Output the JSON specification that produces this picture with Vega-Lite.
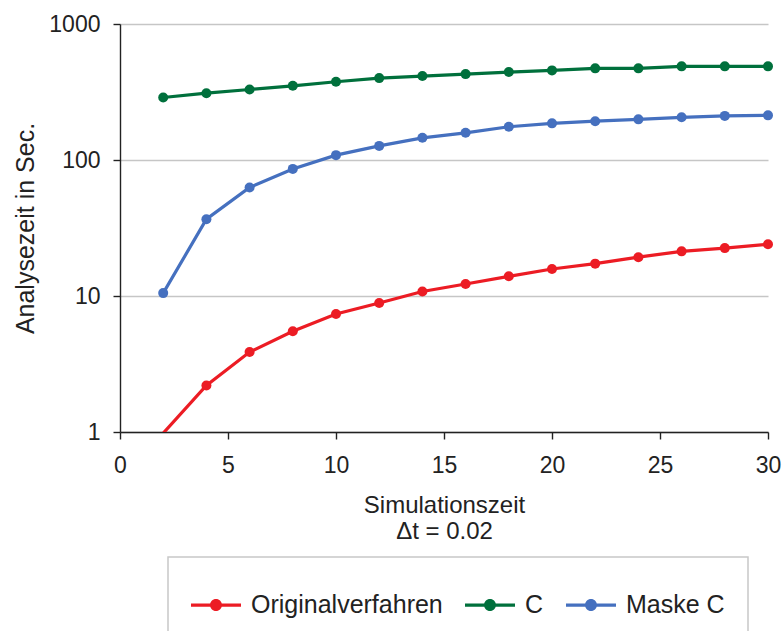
{
  "$schema": "https://vega.github.io/schema/vega-lite/v6.json",
  "width": 648,
  "height": 408,
  "autosize": {"type": "none"},
  "padding": {"left": 120, "top": 24, "right": 15, "bottom": 199},
  "background": "white",
  "config": {
    "view": {"stroke": null},
    "font": "Liberation Sans",
    "axis": {"labelFont": "Liberation Sans", "titleFont": "Liberation Sans", "labelColor": "#222", "titleColor": "#222", "titleFontWeight": "normal"},
    "legend": {"labelFont": "Liberation Sans", "labelColor": "#222"}
  },
  "data": {
    "values": [
      {"t": 2, "series": "Originalverfahren", "value": 0.98},
      {"t": 4, "series": "Originalverfahren", "value": 2.2},
      {"t": 6, "series": "Originalverfahren", "value": 3.87},
      {"t": 8, "series": "Originalverfahren", "value": 5.5},
      {"t": 10, "series": "Originalverfahren", "value": 7.38},
      {"t": 12, "series": "Originalverfahren", "value": 8.89},
      {"t": 14, "series": "Originalverfahren", "value": 10.8},
      {"t": 16, "series": "Originalverfahren", "value": 12.25},
      {"t": 18, "series": "Originalverfahren", "value": 13.95},
      {"t": 20, "series": "Originalverfahren", "value": 15.8},
      {"t": 22, "series": "Originalverfahren", "value": 17.3},
      {"t": 24, "series": "Originalverfahren", "value": 19.3},
      {"t": 26, "series": "Originalverfahren", "value": 21.3},
      {"t": 28, "series": "Originalverfahren", "value": 22.5},
      {"t": 30, "series": "Originalverfahren", "value": 24.0},
      {"t": 2, "series": "C", "value": 288},
      {"t": 4, "series": "C", "value": 310},
      {"t": 6, "series": "C", "value": 330},
      {"t": 8, "series": "C", "value": 351},
      {"t": 10, "series": "C", "value": 376},
      {"t": 12, "series": "C", "value": 400},
      {"t": 14, "series": "C", "value": 414},
      {"t": 16, "series": "C", "value": 428},
      {"t": 18, "series": "C", "value": 443},
      {"t": 20, "series": "C", "value": 456},
      {"t": 22, "series": "C", "value": 472},
      {"t": 24, "series": "C", "value": 472},
      {"t": 26, "series": "C", "value": 488},
      {"t": 28, "series": "C", "value": 488},
      {"t": 30, "series": "C", "value": 488},
      {"t": 2, "series": "Maske C", "value": 10.5},
      {"t": 4, "series": "Maske C", "value": 36.7},
      {"t": 6, "series": "Maske C", "value": 62.8},
      {"t": 8, "series": "Maske C", "value": 86},
      {"t": 10, "series": "Maske C", "value": 108.6},
      {"t": 12, "series": "Maske C", "value": 127},
      {"t": 14, "series": "Maske C", "value": 145.6},
      {"t": 16, "series": "Maske C", "value": 158.5},
      {"t": 18, "series": "Maske C", "value": 175.5},
      {"t": 20, "series": "Maske C", "value": 186},
      {"t": 22, "series": "Maske C", "value": 193},
      {"t": 24, "series": "Maske C", "value": 199},
      {"t": 26, "series": "Maske C", "value": 206},
      {"t": 28, "series": "Maske C", "value": 211},
      {"t": 30, "series": "Maske C", "value": 213}
    ]
  },
  "encoding": {
    "x": {
      "field": "t", "type": "quantitative",
      "scale": {"domain": [0, 30], "nice": false, "zero": false},
      "axis": {
        "values": [0, 5, 10, 15, 20, 25, 30],
        "title": ["Simulationszeit", "Δt = 0.02"],
        "titleFontSize": 24, "titleLineHeight": 26, "titlePadding": 16,
        "labelFontSize": 23, "labelPadding": 15, "labelFlush": false,
        "grid": false, "domainColor": "#222", "domainWidth": 1.4,
        "tickColor": "#222", "tickSize": 7, "tickWidth": 1.4
      }
    },
    "y": {
      "field": "value", "type": "quantitative",
      "scale": {"type": "log", "domain": [1, 1000], "nice": false},
      "axis": {
        "values": [1, 10, 100, 1000], "format": "d",
        "title": "Analysezeit in Sec.",
        "titleFontSize": 25, "titlePadding": 10,
        "labelFontSize": 23, "labelPadding": 13,
        "grid": true, "gridColor": "#c6c6c6", "gridWidth": 1.5,
        "domainColor": "#222", "domainWidth": 1.4,
        "tickColor": "#222", "tickSize": 7, "tickWidth": 1.4
      }
    },
    "color": {
      "field": "series", "type": "nominal",
      "scale": {"domain": ["Originalverfahren", "C", "Maske C"], "range": ["#ec1c24", "#00703c", "#4570bf"]},
      "legend": {
        "title": null, "orient": "none", "direction": "horizontal",
        "legendX": 48, "legendY": 533,
        "padding": 23, "strokeColor": "#c8c8c8",
        "labelFontSize": 25, "labelOffset": 10, "columnPadding": 22, "labelLimit": 400,
        "symbolType": "M-1,-0.065L1,-0.065L1,0.065L-1,0.065Z M-0.24,0A0.24,0.24 0 1,1 0.24,0A0.24,0.24 0 1,1 -0.24,0Z",
        "symbolSize": 2500,
        "encode": {
          "legend": {"update": {"strokeWidth": {"value": 1.5}}},
          "symbols": {"update": {"fill": {"scale": "color", "field": "value"}, "stroke": {"value": "transparent"}, "strokeWidth": {"value": 0}, "opacity": {"value": 1}, "fillOpacity": {"value": 1}}}
        }
      }
    },
    "order": {"field": "t", "type": "quantitative"}
  },
  "layer": [
    {"mark": {"type": "line", "strokeWidth": 3.2, "clip": true}},
    {"transform": [{"filter": "datum.value >= 1"}], "mark": {"type": "point", "filled": true, "size": 100, "opacity": 1}}
  ]
}
